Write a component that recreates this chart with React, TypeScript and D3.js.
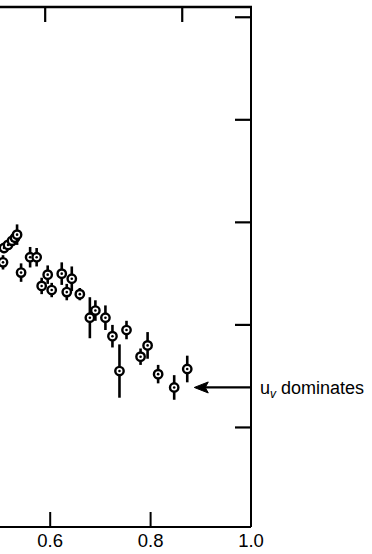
import React from "react";
import * as d3 from "d3";

// points: x, ratio value, error half-width
const xs = [0.506, 0.508, 0.516, 0.524, 0.53, 0.534, 0.542, 0.56, 0.573, 0.583, 0.595, 0.603, 0.623, 0.633, 0.643, 0.659, 0.679, 0.69, 0.71, 0.724, 0.738, 0.752, 0.78, 0.794, 0.815, 0.847, 0.873];
const ys = [2.61, 2.75, 2.78, 2.82, 2.85, 2.88, 2.51, 2.66, 2.66, 2.38, 2.49, 2.34, 2.5, 2.32, 2.45, 2.3, 2.07, 2.14, 2.07, 1.89, 1.55, 1.95, 1.69, 1.8, 1.52, 1.39, 1.57];
const errs = [0.07, 0.05, 0.05, 0.05, 0.05, 0.1, 0.09, 0.1, 0.09, 0.08, 0.09, 0.07, 0.11, 0.08, 0.12, 0.06, 0.2, 0.1, 0.12, 0.11, 0.26, 0.09, 0.08, 0.13, 0.09, 0.12, 0.13];

const bottomTicks = [0.6, 0.8, 1.0];
const topTicks = [0.59, 0.863];
const rightTicks = [1, 2, 3, 4, 5];
const arrowY = 1.39;
const arrowTip = 0.887;

const W = 372;
const H = 554;

export default function App() {
  const x = d3.scaleLinear().domain([0.5, 1.0]).range([0, 251]);
  const y = d3.scaleLinear().domain([0, 5.1]).range([530, 7]);
  const x0 = x(0.5);
  const x1 = x(1.0);
  const yTop = y(5.1);
  const yBot = 527;
  const font = "'Liberation Sans', Arial, Helvetica, sans-serif";

  const pts = xs.map((v, i) => ({ x: v, y: ys[i], e: errs[i] }));
  const ay = y(arrowY);
  const ax = x(arrowTip);

  return (
    <svg width={W} height={H} style={{ position: "absolute", left: 0, top: 0, background: "#fff" }}>
      {/* frame */}
      <line x1={x0} x2={x1 + 1} y1={yTop} y2={yTop} stroke="#000" strokeWidth={2.5} />
      <line x1={x1} x2={x1} y1={yTop} y2={yBot} stroke="#000" strokeWidth={2} />
      <line x1={x0} x2={x1} y1={yBot} y2={yBot} stroke="#000" strokeWidth={2} />

      {topTicks.map((t) => (
        <line key={"t" + t} x1={x(t)} x2={x(t)} y1={yTop} y2={yTop + 15} stroke="#000" strokeWidth={2.2} />
      ))}
      {rightTicks.map((t) => (
        <line key={"r" + t} x1={x1 - 16} x2={x1} y1={y(t)} y2={y(t)} stroke="#000" strokeWidth={2.2} />
      ))}
      {bottomTicks.filter((t) => t < 1).map((t) => (
        <line key={"b" + t} x1={x(t)} x2={x(t)} y1={yBot} y2={yBot - 15} stroke="#000" strokeWidth={2} />
      ))}
      {bottomTicks.map((t) => (
        <text key={"l" + t} x={x(t)} y={547} textAnchor="middle" fontFamily={font} fontSize={18.5}>
          {d3.format(".1f")(t)}
        </text>
      ))}

      {/* data */}
      {pts.map((p, i) => (
        <g key={i}>
          <line x1={x(p.x)} x2={x(p.x)} y1={y(p.y + p.e)} y2={y(p.y - p.e)} stroke="#000" strokeWidth={2.6} />
          <circle cx={x(p.x)} cy={y(p.y)} r={4.2} fill="#fff" stroke="#000" strokeWidth={2.4} />
          <circle cx={x(p.x)} cy={y(p.y)} r={1.3} fill="#000" />
        </g>
      ))}

      {/* arrow */}
      <line x1={x1} x2={ax + 10} y1={ay} y2={ay} stroke="#000" strokeWidth={2.2} />
      <path d={`M${ax},${ay} L${ax + 14},${ay - 5.5} L${ax + 11},${ay} L${ax + 14},${ay + 5.5} Z`} fill="#000" stroke="#000" strokeWidth={1} />
      <text x={260} y={394} fontFamily={font} fontSize={18}>
        u
        <tspan fontSize={12} fontStyle="italic" dy={4}>v</tspan>
        <tspan dy={-4}> dominates</tspan>
      </text>
    </svg>
  );
}
